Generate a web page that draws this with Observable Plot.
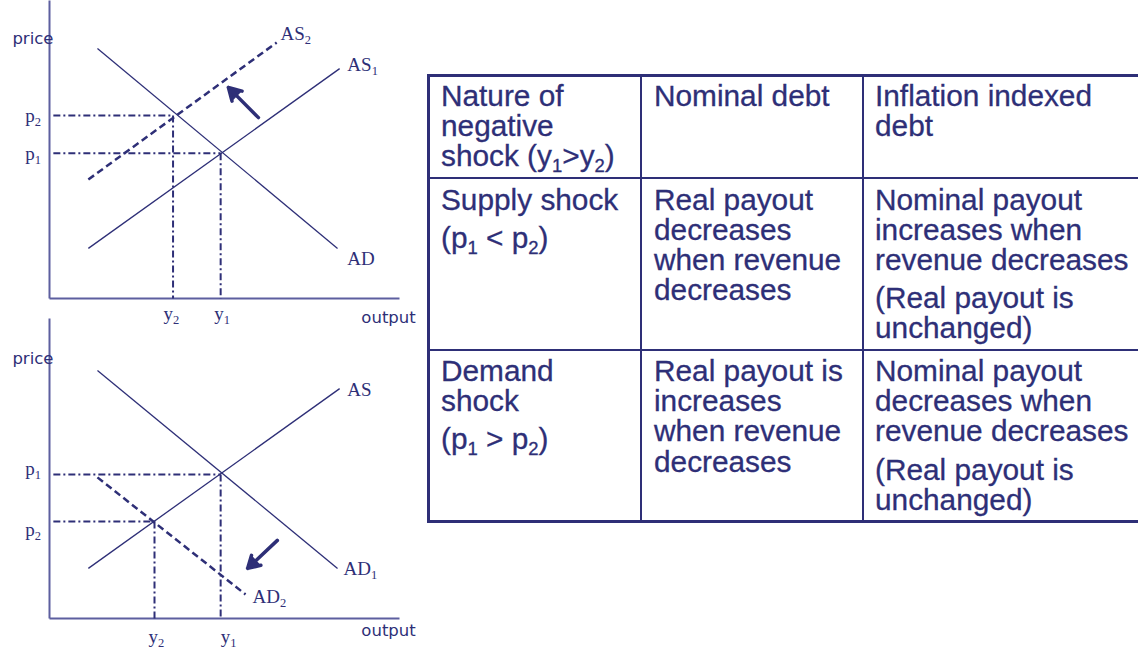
<!DOCTYPE html>
<html>
<head>
<meta charset="utf-8">
<script src="https://cdn.jsdelivr.net/npm/d3@7"></script>
<script src="https://cdn.jsdelivr.net/npm/@observablehq/plot@0.6"></script>
<style>
  html, body { margin: 0; padding: 0; background: #fff; }
  body { position: relative; width: 1138px; height: 649px; overflow: hidden; }
  .diagram { position: absolute; left: 0; }
  #supply { top: 0; }
  #demand { top: 320px; }
  #tbl {
    position: absolute; left: 427px; top: 74px;
    display: grid;
    grid-template-columns: 212px 222px 296px;
    grid-template-rows: 102px 172px 169px;
    border-left: 3px solid #2e2f77; border-top: 3px solid #2e2f77; border-bottom: 3px solid #2e2f77;
    font-family: "Liberation Sans", Arial, sans-serif;
    font-size: 29.8px; line-height: 30.2px; color: #2e2f77;
    -webkit-text-stroke: 0.3px #2e2f77;
  }
  #tbl .cell { box-sizing: border-box; white-space: nowrap; padding-left: 11px; }
  #tbl .col0, #tbl .col1 { border-right: 2px solid #2e2f77; }
  #tbl .col1 { padding-left: 12px; }
  #tbl .row0, #tbl .row1 { border-bottom: 2px solid #2e2f77; }
  #tbl .row0 { padding-top: 4px; }
  #tbl .row1 { padding-top: 5.5px; }
  #tbl .row2 { padding-top: 5px; }
  #tbl .para + .para { margin-top: 8px; }
  #tbl sub { font-size: 0.62em; vertical-align: -0.3em; line-height: 0; }
</style>
</head>
<body>
<div id="supply" class="diagram"></div>
<div id="demand" class="diagram"></div>
<div id="tbl"></div>
<script>
const ink = "#2e2f77";
const axisInk = "#5d5f9f";
const serif = "'Liberation Serif', 'Times New Roman', serif";
const sans = "'DejaVu Sans', Verdana, sans-serif";

// ---------- Supply-shock diagram (output on x, price on y; units 0–10) ----------
const supplyCurves = [
  {label: "AD",  x1: 1.37, y1: 8.93, x2: 8.23, y2: 1.79},
  {label: "AS1", x1: 1.11, y1: 1.79, x2: 8.29, y2: 8.21}
];
const supplyShifted = [
  {label: "AS2", x1: 1.11, y1: 4.25, x2: 6.49, y2: 9.14}
];
const supplyEquilibria = [
  {name: "1", output: 4.89, price: 5.19},
  {name: "2", output: 3.53, price: 6.54}
];
const supplyArrow = [{x1: 5.97, y1: 6.46, x2: 5.11, y2: 7.54}];
const supplyCurveLabels = [
  {text: "AS2", x: 6.6,  y: 9.25},
  {text: "AS1", x: 8.51, y: 8.14},
  {text: "AD",  x: 8.51, y: 1.18}
];
const supplyTickLabels = [
  {text: "p2", x: -0.69, y: 6.29},
  {text: "p1", x: -0.69, y: 4.93},
  {text: "y2", x: 3.26,  y: -0.75},
  {text: "y1", x: 4.71,  y: -0.75}
];
const supplyAxisTitles = [
  {text: "price",  x: -1.06, y: 9.1},
  {text: "output", x: 8.91,  y: -0.86}
];
const supplyAxisExtent = {top: 10.64, right: 10};

// ---------- Demand-shock diagram ----------
const demandCurves = [
  {label: "AD1", x1: 1.37, y1: 8.86, x2: 8.23, y2: 1.79},
  {label: "AS",  x1: 1.11, y1: 1.79, x2: 8.29, y2: 8.21}
];
const demandShifted = [
  {label: "AD2", x1: 1.37, y1: 5.04, x2: 5.6, y2: 0.86}
];
const demandEquilibria = [
  {name: "1", output: 4.89, price: 5.14},
  {name: "2", output: 3.0,  price: 3.46}
];
const demandArrow = [{x1: 6.51, y1: 2.79, x2: 5.66, y2: 1.79}];
const demandCurveLabels = [
  {text: "AS",  x: 8.51, y: 7.93},
  {text: "AD1", x: 8.4,  y: 1.54},
  {text: "AD2", x: 5.8,  y: 0.57}
];
const demandTickLabels = [
  {text: "p1", x: -0.69, y: 5.14},
  {text: "p2", x: -0.69, y: 2.93},
  {text: "y2", x: 2.83,  y: -0.89},
  {text: "y1", x: 4.89,  y: -0.89}
];
const demandAxisTitles = [
  {text: "price",  x: -1.06, y: 9.1},
  {text: "output", x: 8.91,  y: -0.64}
];
const demandAxisExtent = {top: 10.71, right: 10};

// ---------- Table ----------
const tableHeader = [
  [["Nature of", "negative", "shock (y<sub>1</sub>&gt;y<sub>2</sub>)"]],
  [["Nominal debt"]],
  [["Inflation indexed", "debt"]]
];
const supplyRow = [
  [["Supply shock"], ["(p<sub>1</sub> &lt; p<sub>2</sub>)"]],
  [["Real payout", "decreases", "when revenue", "decreases"]],
  [["Nominal payout", "increases when", "revenue decreases"], ["(Real payout is", "unchanged)"]]
];
const demandRow = [
  [["Demand", "shock"], ["(p<sub>1</sub> &gt; p<sub>2</sub>)"]],
  [["Real payout is", "increases", "when revenue", "decreases"]],
  [["Nominal payout", "decreases when", "revenue decreases"], ["(Real payout is", "unchanged)"]]
];
const tableRows = [tableHeader, supplyRow, demandRow];

// ---------- Drawing ----------
const guidePattern = "7,3,2,3";

function addSubscripts(svg) {
  svg.querySelectorAll("text").forEach(t => {
    if (t.childElementCount) return;
    const m = t.textContent.match(/^([A-Za-z]+)([0-9])$/);
    if (!m) return;
    t.textContent = m[1];
    const s = document.createElementNS("http://www.w3.org/2000/svg", "tspan");
    s.setAttribute("dy", "4");
    s.setAttribute("font-size", "12.5");
    s.textContent = m[2];
    t.appendChild(s);
  });
}

function diagram(d) {
  const svg = Plot.plot({
    width: 420, height: 330,
    marginLeft: 49, marginRight: 21, marginTop: 18, marginBottom: 32,
    x: {domain: [0, 10], axis: null},
    y: {domain: [0, 10], axis: null},
    style: {background: "transparent", overflow: "visible"},
    marks: [
      // axes
      Plot.link([d.extent], {x1: () => 0, y1: () => 0, x2: () => 0, y2: e => e.top, stroke: axisInk, strokeWidth: 2}),
      Plot.link([d.extent], {x1: () => 0, y1: () => 0, x2: e => e.right, y2: () => 0, stroke: axisInk, strokeWidth: 2}),
      // guides
      Plot.link(d.equilibria, {x1: () => 0.11, y1: "price", x2: "output", y2: "price", stroke: ink, strokeWidth: 2, strokeDasharray: guidePattern}),
      Plot.link(d.equilibria, {x1: "output", y1: "price", x2: "output", y2: () => 0, stroke: ink, strokeWidth: 2, strokeDasharray: guidePattern}),
      // curves
      Plot.link(d.curves, {x1: "x1", y1: "y1", x2: "x2", y2: "y2", stroke: ink, strokeWidth: 1.3}),
      Plot.link(d.shifted, {x1: "x1", y1: "y1", x2: "x2", y2: "y2", stroke: ink, strokeWidth: 2.5, strokeDasharray: "7,4"}),
      // shift arrow (filled head)
      Plot.arrow(d.arrow, {x1: "x1", y1: "y1", x2: "x2", y2: "y2", stroke: ink, fill: ink, strokeWidth: 3.5, headLength: 11, headAngle: 60, strokeLinejoin: "miter"}),
      // labels
      Plot.text(d.curveLabels, {x: "x", y: "y", text: "text", textAnchor: "start", lineAnchor: "bottom", fontFamily: serif, fontSize: 19, fill: ink}),
      Plot.text(d.tickLabels, {x: "x", y: "y", text: "text", textAnchor: "start", lineAnchor: "bottom", fontFamily: serif, fontSize: 19, fill: ink}),
      Plot.text(d.titles, {x: "x", y: "y", text: "text", textAnchor: "start", lineAnchor: "bottom", fontFamily: sans, fontSize: 16.5, fill: ink})
    ]
  });
  addSubscripts(svg);
  return svg;
}

document.getElementById("supply").append(diagram({
  curves: supplyCurves, shifted: supplyShifted, equilibria: supplyEquilibria, arrow: supplyArrow,
  curveLabels: supplyCurveLabels, tickLabels: supplyTickLabels, titles: supplyAxisTitles, extent: supplyAxisExtent
}));
document.getElementById("demand").append(diagram({
  curves: demandCurves, shifted: demandShifted, equilibria: demandEquilibria, arrow: demandArrow,
  curveLabels: demandCurveLabels, tickLabels: demandTickLabels, titles: demandAxisTitles, extent: demandAxisExtent
}));

const tbl = document.getElementById("tbl");
tableRows.forEach((row, r) => {
  row.forEach((cell, c) => {
    const div = document.createElement("div");
    div.className = `cell row${r} col${c}`;
    div.innerHTML = cell.map(lines => `<div class="para">${lines.join("<br>")}</div>`).join("");
    tbl.appendChild(div);
  });
});
</script>
</body>
</html>
